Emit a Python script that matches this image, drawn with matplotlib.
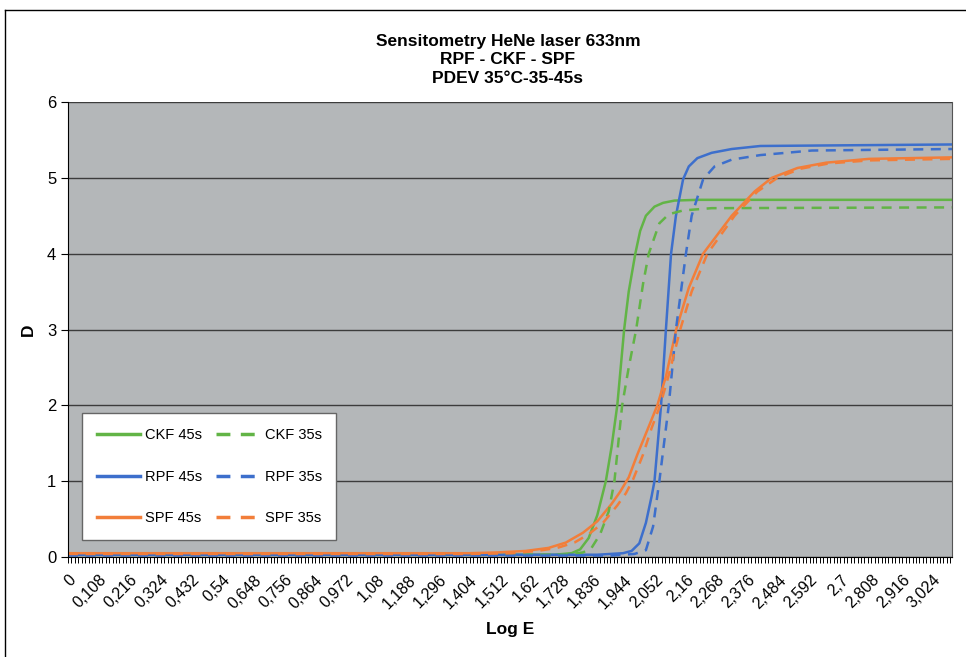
import numpy as np
import matplotlib.pyplot as plt
from matplotlib.lines import Line2D

# values (Log E, D)
ckf45_x = [0, 1.70, 1.76, 1.79, 1.82, 1.85, 1.88, 1.90, 1.92, 1.944, 1.96, 1.983, 2.00, 2.02, 2.05, 2.08, 2.12, 2.20, 3.09]
ckf45_y = [0.03, 0.03, 0.05, 0.10, 0.25, 0.55, 1.0, 1.45, 2.0, 3.0, 3.5, 4.0, 4.3, 4.5, 4.62, 4.67, 4.70, 4.71, 4.71]

ckf35_x = [0, 1.74, 1.80, 1.83, 1.86, 1.89, 1.91, 1.937, 1.96, 1.986, 2.01, 2.03, 2.067, 2.10, 2.15, 2.25, 3.09]
ckf35_y = [0.03, 0.03, 0.06, 0.12, 0.30, 0.60, 1.0, 2.0, 2.5, 3.0, 3.6, 4.0, 4.4, 4.52, 4.57, 4.60, 4.61]

rpf45_x = [0, 1.85, 1.94, 1.97, 1.997, 2.02, 2.04, 2.05, 2.073, 2.09, 2.108, 2.125, 2.15, 2.17, 2.20, 2.25, 2.32, 2.42, 3.09]
rpf45_y = [0.03, 0.03, 0.05, 0.08, 0.18, 0.45, 0.8, 1.0, 2.0, 3.0, 4.0, 4.5, 4.98, 5.15, 5.26, 5.33, 5.38, 5.42, 5.44]

rpf35_x = [0, 1.90, 1.98, 2.02, 2.045, 2.067, 2.10, 2.125, 2.16, 2.18, 2.22, 2.26, 2.32, 2.42, 2.60, 3.09]
rpf35_y = [0.02, 0.02, 0.04, 0.09, 0.40, 1.0, 2.0, 3.0, 4.0, 4.5, 4.98, 5.15, 5.24, 5.3, 5.36, 5.38]

spf45_x = [0, 1.40, 1.50, 1.60, 1.68, 1.74, 1.80, 1.85, 1.90, 1.93, 1.96, 1.99, 2.03, 2.06, 2.09, 2.126, 2.17, 2.22, 2.32, 2.40, 2.46, 2.55, 2.65, 2.80, 3.09]
spf45_y = [0.05, 0.05, 0.06, 0.08, 0.12, 0.19, 0.32, 0.47, 0.70, 0.86, 1.05, 1.35, 1.72, 2.0, 2.38, 3.0, 3.55, 4.0, 4.5, 4.82, 5.0, 5.13, 5.2, 5.25, 5.27]

spf35_x = [0, 1.40, 1.55, 1.64, 1.71, 1.77, 1.82, 1.87, 1.92, 1.95, 1.975, 2.01, 2.04, 2.07, 2.10, 2.14, 2.18, 2.235, 2.33, 2.41, 2.48, 2.56, 2.66, 2.80, 3.09]
spf35_y = [0.04, 0.04, 0.05, 0.08, 0.12, 0.19, 0.30, 0.45, 0.68, 0.84, 1.02, 1.35, 1.7, 2.0, 2.4, 3.0, 3.5, 4.0, 4.5, 4.82, 5.0, 5.12, 5.19, 5.23, 5.25]

xtick_vals = [0, 0.108, 0.216, 0.324, 0.432, 0.54, 0.648, 0.756, 0.864, 0.972, 1.08, 1.188,
              1.296, 1.404, 1.512, 1.62, 1.728, 1.836, 1.944, 2.052, 2.16, 2.268, 2.376,
              2.484, 2.592, 2.7, 2.808, 2.916, 3.024]
xtick_labels = ['0', '0,108', '0,216', '0,324', '0,432', '0,54', '0,648', '0,756', '0,864',
                '0,972', '1,08', '1,188', '1,296', '1,404', '1,512', '1,62', '1,728', '1,836',
                '1,944', '2,052', '2,16', '2,268', '2,376', '2,484', '2,592', '2,7', '2,808',
                '2,916', '3,024']
step = 0.012

green = '#62b446'
blue = '#3d6fcc'
orange = '#f27e3a'

plt.rcParams['font.family'] = ['Liberation Sans', 'DejaVu Sans']

fig = plt.figure(figsize=(9.66, 6.57), dpi=100)
ax = fig.add_axes([68/966, 100/657, 884/966, 455/657])
ax.set_facecolor('#b4b7b9')

lw = 1.8
ax.plot(ckf45_x, ckf45_y, color=green, lw=lw, label='CKF 45s')
ax.plot(rpf45_x, rpf45_y, color=blue, lw=lw, label='RPF 45s')
ax.plot(spf45_x, spf45_y, color=orange, lw=lw, label='SPF 45s')
ax.plot(ckf35_x, ckf35_y, color=green, lw=lw, ls=(0, (4, 3)), label='CKF 35s')
ax.plot(rpf35_x, rpf35_y, color=blue, lw=lw, ls=(0, (4, 3)), label='RPF 35s')
ax.plot(spf35_x, spf35_y, color=orange, lw=lw, ls=(0, (4, 3)), label='SPF 35s')

ax.set_xlim(0, 3.09)
ax.set_ylim(0, 6)
ax.set_yticks(range(7))
ax.grid(axis='y', color='#3c3c3c', lw=1)
ax.set_axisbelow(True)

ax.set_xticks(xtick_vals)
ax.set_xticklabels(xtick_labels, rotation=45, ha='right', rotation_mode='anchor', fontsize=11.5)
ax.set_xticks(np.arange(0, 3.09, step), minor=True)
ax.tick_params(axis='x', which='both', direction='out', length=4, width=0.7, pad=7)
ax.tick_params(axis='y', direction='out', length=5, labelsize=12)

for s in ['left', 'bottom']:
    ax.spines[s].set_color('black')
ax.spines['top'].set_visible(False)
ax.spines['right'].set_color('#555555')

ax.set_xlabel('Log E', fontsize=12.5, fontweight='bold', labelpad=8)
ax.set_ylabel('D', fontsize=12.5, fontweight='bold', labelpad=8)

fig.text(508/966, 1 - 60/657, 'Sensitometry HeNe laser 633nm\nRPF - CKF - SPF\nPDEV 35°C-35-45s',
         ha='center', va='center', fontsize=12.5, fontweight='bold', linespacing=1.3)

leg = ax.legend(ncol=2, loc='lower left', bbox_to_anchor=(14/884, 17/455), borderaxespad=0,
                frameon=True, fancybox=False, fontsize=10.5, handlelength=3.0,
                labelspacing=1.9, columnspacing=1.0, borderpad=1.0, handletextpad=0.3)
leg.get_frame().set_edgecolor('#666666')
leg.get_frame().set_facecolor('white')
leg.get_frame().set_alpha(1)
for h in leg.get_lines():
    h.set_linewidth(2.5)

fig.add_artist(Line2D([5/966, 1], [1 - 10/657, 1 - 10/657], color='black', lw=1))
fig.add_artist(Line2D([5/966, 5/966], [0, 1 - 10/657], color='black', lw=1))

fig.savefig('out.png', dpi=100)
